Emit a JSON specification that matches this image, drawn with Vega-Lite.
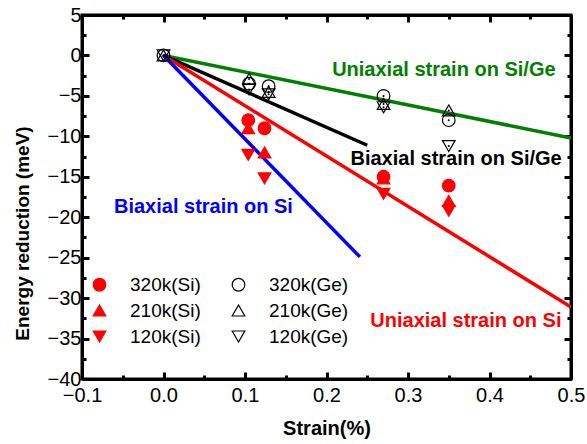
{
  "$schema": "https://vega.github.io/schema/vega-lite/v6.json",
  "width": 489,
  "height": 364,
  "autosize": "none",
  "padding": {"left": 82, "top": 15, "right": 16, "bottom": 65},
  "background": "white",
  "config": {
    "view": {"stroke": "black", "strokeWidth": 3},
    "font": "Liberation Sans",
    "axis": {"grid": false}
  },
  "datasets": {
    "pts": [
      {"strain": 0, "energy": 0, "series": "320k(Ge)"},
      {"strain": 0, "energy": 0, "series": "210k(Ge)"},
      {"strain": 0, "energy": 0, "series": "120k(Ge)"},
      {"strain": 0.105, "energy": -3.5, "series": "320k(Ge)"},
      {"strain": 0.105, "energy": -2.9, "series": "210k(Ge)"},
      {"strain": 0.105, "energy": -4.2, "series": "120k(Ge)"},
      {"strain": 0.129, "energy": -3.8, "series": "320k(Ge)"},
      {"strain": 0.129, "energy": -4.5, "series": "210k(Ge)"},
      {"strain": 0.129, "energy": -4.8, "series": "120k(Ge)"},
      {"strain": 0.27, "energy": -5.0, "series": "320k(Ge)"},
      {"strain": 0.27, "energy": -6.0, "series": "210k(Ge)"},
      {"strain": 0.27, "energy": -6.4, "series": "120k(Ge)"},
      {"strain": 0.35, "energy": -8.0, "series": "320k(Ge)"},
      {"strain": 0.35, "energy": -6.8, "series": "210k(Ge)"},
      {"strain": 0.35, "energy": -11.2, "series": "120k(Ge)"},
      {"strain": 0.104, "energy": -8.0, "series": "320k(Si)"},
      {"strain": 0.104, "energy": -9.0, "series": "210k(Si)"},
      {"strain": 0.104, "energy": -12.3, "series": "120k(Si)"},
      {"strain": 0.124, "energy": -9.0, "series": "320k(Si)"},
      {"strain": 0.124, "energy": -12.0, "series": "210k(Si)"},
      {"strain": 0.124, "energy": -15.2, "series": "120k(Si)"},
      {"strain": 0.27, "energy": -15.0, "series": "320k(Si)"},
      {"strain": 0.27, "energy": -15.2, "series": "210k(Si)"},
      {"strain": 0.27, "energy": -17.1, "series": "120k(Si)"},
      {"strain": 0.35, "energy": -16.1, "series": "320k(Si)"},
      {"strain": 0.35, "energy": -18.0, "series": "210k(Si)"},
      {"strain": 0.35, "energy": -19.2, "series": "120k(Si)"}
    ],
    "lines": [
      {"line": "Uniaxial Si/Ge", "strain": 0, "energy": 0},
      {"line": "Uniaxial Si/Ge", "strain": 0.5, "energy": -10.2},
      {"line": "Biaxial Si/Ge", "strain": 0, "energy": 0},
      {"line": "Biaxial Si/Ge", "strain": 0.25, "energy": -11.1},
      {"line": "Uniaxial Si", "strain": 0, "energy": 0},
      {"line": "Uniaxial Si", "strain": 0.5, "energy": -31.1},
      {"line": "Biaxial Si", "strain": 0, "energy": 0},
      {"line": "Biaxial Si", "strain": 0.241, "energy": -24.9}
    ],
    "labels": [
      {"text": "Uniaxial strain on Si/Ge", "strain": 0.344, "energy": -1.8, "color": "#008000"},
      {"text": "Biaxial strain on Si/Ge", "strain": 0.359, "energy": -12.8, "color": "#000000"},
      {"text": "Biaxial strain on Si", "strain": 0.049, "energy": -18.7, "color": "#0000ff"},
      {"text": "Uniaxial strain on Si", "strain": 0.371, "energy": -32.8, "color": "#ff0000"}
    ]
  },
  "resolve": {"axis": {"x": "independent", "y": "independent"}},
  "layer": [
    {
      "data": {"name": "lines"},
      "mark": {"type": "line", "strokeWidth": 3.5, "clip": true},
      "encoding": {
        "x": {
          "field": "strain", "type": "quantitative",
          "scale": {"domain": [-0.1, 0.5], "nice": false, "zero": false},
          "axis": {
            "orient": "bottom",
            "values": [-0.1, -0.05, 0, 0.05, 0.1, 0.15, 0.2, 0.25, 0.3, 0.35, 0.4, 0.45, 0.5],
            "format": ".1f",
            "labelExpr": "abs(datum.value*10 - round(datum.value*10)) < 0.001 ? datum.label : ''",
            "tickSize": {"condition": {"test": "abs(datum.value*10 - round(datum.value*10)) < 0.001", "value": -7}, "value": -4},
            "tickWidth": 3, "tickColor": "black",
            "domainWidth": 3, "domainColor": "black",
            "labelFontSize": 20, "labelColor": "black", "labelPadding": 13,
            "labelFlush": false, "labelOverlap": false,
            "title": "Strain(%)", "titleFontSize": 20, "titleFontWeight": "bold",
            "titleColor": "black", "titlePadding": 10
          }
        },
        "y": {
          "field": "energy", "type": "quantitative",
          "scale": {"domain": [-40, 5], "nice": false, "zero": false},
          "axis": {
            "orient": "left",
            "values": [5, 2.5, 0, -2.5, -5, -7.5, -10, -12.5, -15, -17.5, -20, -22.5, -25, -27.5, -30, -32.5, -35, -37.5, -40],
            "labelExpr": "datum.value % 5 === 0 ? datum.label : ''",
            "tickSize": {"condition": {"test": "datum.value % 5 === 0", "value": -7}, "value": -4},
            "tickWidth": 3, "tickColor": "black",
            "domainWidth": 3, "domainColor": "black",
            "labelFontSize": 20, "labelColor": "black", "labelPadding": 8,
            "labelFlush": false, "labelOverlap": false,
            "title": "Energy reduction (meV)", "titleFontSize": 19, "titleFontWeight": "bold",
            "titleColor": "black", "titleX": -60, "titleY": 218, "titleAngle": -90,
            "titleAlign": "center", "titleBaseline": "middle"
          }
        },
        "detail": {"field": "line"},
        "color": {
          "field": "line", "type": "nominal",
          "scale": {"domain": ["Uniaxial Si/Ge", "Biaxial Si/Ge", "Uniaxial Si", "Biaxial Si"], "range": ["#008000", "#000000", "#ff0000", "#0000ff"]},
          "legend": null
        }
      }
    },
    {
      "data": {"name": "pts"},
      "mark": {"type": "point", "strokeWidth": 1.2, "opacity": 1},
      "encoding": {
        "x": {
          "field": "strain", "type": "quantitative",
          "axis": {
            "orient": "top",
            "values": [-0.1, -0.05, 0, 0.05, 0.1, 0.15, 0.2, 0.25, 0.3, 0.35, 0.4, 0.45, 0.5],
            "labels": false, "title": null,
            "tickSize": {"condition": {"test": "abs(datum.value*10 - round(datum.value*10)) < 0.001", "value": -7}, "value": -4},
            "tickWidth": 3, "tickColor": "black",
            "domainWidth": 3, "domainColor": "black"
          }
        },
        "y": {
          "field": "energy", "type": "quantitative",
          "axis": {
            "orient": "right",
            "values": [5, 2.5, 0, -2.5, -5, -7.5, -10, -12.5, -15, -17.5, -20, -22.5, -25, -27.5, -30, -32.5, -35, -37.5, -40],
            "labels": false, "title": null,
            "tickSize": {"condition": {"test": "datum.value % 5 === 0", "value": -7}, "value": -4},
            "tickWidth": 3, "tickColor": "black",
            "domainWidth": 3, "domainColor": "black"
          }
        },
        "shape": {
          "field": "series", "type": "nominal",
          "scale": {
            "domain": ["320k(Si)", "210k(Si)", "120k(Si)", "320k(Ge)", "210k(Ge)", "120k(Ge)"],
            "range": ["circle", "triangle-up", "triangle-down", "circle", "triangle-up", "triangle-down"]
          },
          "legend": {
            "title": null, "orient": "none", "legendX": 8, "legendY": 260,
            "columns": 2, "columnPadding": 28, "rowPadding": 6,
            "labelFontSize": 19, "labelColor": "black", "labelOffset": 21,
            "symbolStrokeWidth": 1.2, "symbolOpacity": 1
          }
        },
        "size": {
          "field": "series", "type": "nominal",
          "scale": {
            "domain": ["320k(Si)", "210k(Si)", "120k(Si)", "320k(Ge)", "210k(Ge)", "120k(Ge)"],
            "range": [160, 160, 160, 110, 140, 140]
          },
          "legend": {"title": null}
        },
        "stroke": {
          "field": "series", "type": "nominal",
          "scale": {
            "domain": ["320k(Si)", "210k(Si)", "120k(Si)", "320k(Ge)", "210k(Ge)", "120k(Ge)"],
            "range": ["#ff0000", "#ff0000", "#ff0000", "#000000", "#000000", "#000000"]
          },
          "legend": {"title": null}
        },
        "fill": {
          "field": "series", "type": "nominal",
          "scale": {
            "domain": ["320k(Si)", "210k(Si)", "120k(Si)", "320k(Ge)", "210k(Ge)", "120k(Ge)"],
            "range": ["#ff0000", "#ff0000", "#ff0000", "transparent", "transparent", "transparent"]
          },
          "legend": {"title": null}
        }
      }
    },
    {
      "data": {"name": "pts"},
      "transform": [{"filter": "indexof(datum.series, 'Ge') >= 0"}],
      "mark": {"type": "circle", "size": 4, "color": "black", "opacity": 1},
      "encoding": {
        "x": {"field": "strain", "type": "quantitative", "axis": null},
        "y": {"field": "energy", "type": "quantitative", "axis": null}
      }
    },
    {
      "data": {"name": "labels"},
      "mark": {"type": "text", "font": "Liberation Sans", "fontWeight": "bold", "fontSize": 20, "align": "center", "baseline": "middle"},
      "encoding": {
        "x": {"field": "strain", "type": "quantitative", "axis": null},
        "y": {"field": "energy", "type": "quantitative", "axis": null},
        "text": {"field": "text"},
        "color": {"field": "color", "type": "nominal", "scale": null}
      }
    }
  ]
}
